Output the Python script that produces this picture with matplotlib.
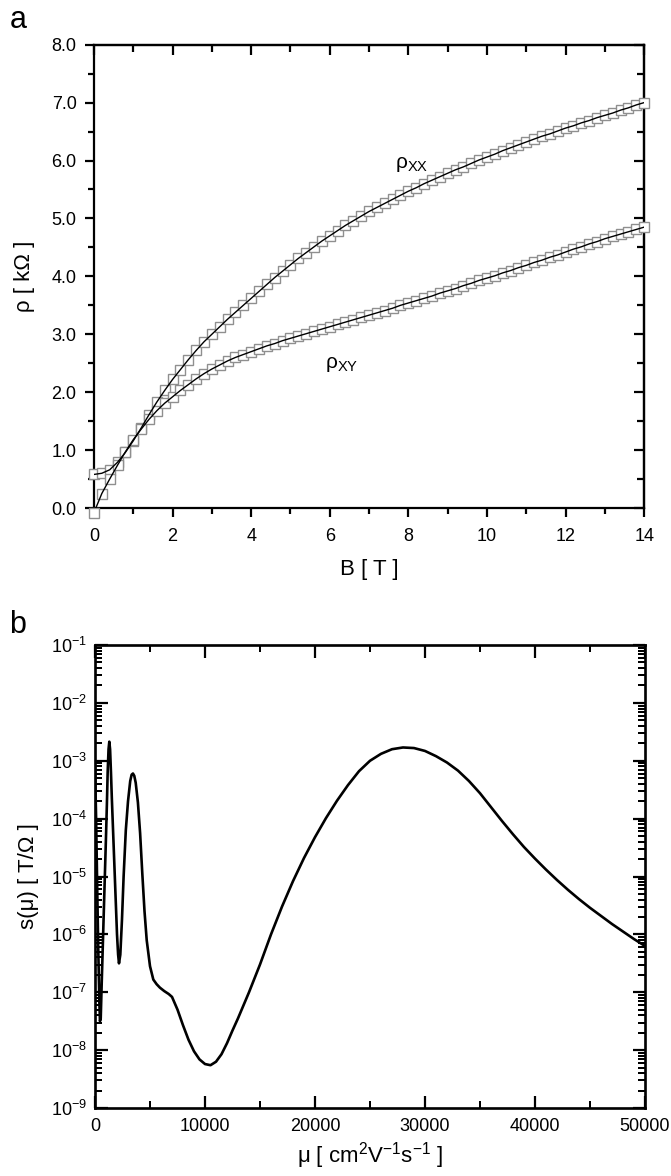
import matplotlib
matplotlib.use("Agg")
import matplotlib.pyplot as plt
import numpy as np
from matplotlib.ticker import MultipleLocator, LogLocator, NullFormatter, FormatStrFormatter, LogFormatterSciNotation

# ---- panel a: magnetoresistance data (B in T, rho in kOhm) ----
B_T = [0.0, 0.2, 0.4, 0.6, 0.8, 1.0, 1.2, 1.4, 1.6, 1.8,
       2.0, 2.2, 2.4, 2.6, 2.8, 3.0, 3.2, 3.4, 3.6, 3.8,
       4.0, 4.2, 4.4, 4.6, 4.8, 5.0, 5.2, 5.4, 5.6, 5.8,
       6.0, 6.2, 6.4, 6.6, 6.8, 7.0, 7.2, 7.4, 7.6, 7.8,
       8.0, 8.2, 8.4, 8.6, 8.8, 9.0, 9.2, 9.4, 9.6, 9.8,
       10.0, 10.2, 10.4, 10.6, 10.8, 11.0, 11.2, 11.4, 11.6, 11.8,
       12.0, 12.2, 12.4, 12.6, 12.8, 13.0, 13.2, 13.4, 13.6, 13.8, 14.0]
RHO_XX = [0.58, 0.60, 0.66, 0.79, 0.96, 1.16, 1.38, 1.61, 1.83, 2.03,
          2.22, 2.39, 2.56, 2.72, 2.87, 3.00, 3.13, 3.26, 3.38, 3.50,
          3.62, 3.74, 3.86, 3.98, 4.09, 4.20, 4.31, 4.41, 4.51, 4.61,
          4.70, 4.79, 4.88, 4.96, 5.04, 5.12, 5.19, 5.26, 5.33, 5.40,
          5.47, 5.53, 5.60, 5.66, 5.72, 5.78, 5.84, 5.89, 5.95, 6.01,
          6.06, 6.11, 6.17, 6.22, 6.27, 6.32, 6.37, 6.42, 6.46, 6.51,
          6.56, 6.60, 6.65, 6.69, 6.74, 6.78, 6.82, 6.87, 6.91, 6.96, 7.00]
RHO_XY = [-0.08, 0.25, 0.50, 0.74, 0.97, 1.18, 1.36, 1.53, 1.68, 1.81,
          1.92, 2.03, 2.13, 2.23, 2.32, 2.40, 2.47, 2.54, 2.60, 2.65,
          2.70, 2.75, 2.80, 2.84, 2.89, 2.93, 2.97, 3.01, 3.05, 3.09,
          3.13, 3.17, 3.21, 3.25, 3.29, 3.33, 3.37, 3.41, 3.45, 3.50,
          3.54, 3.58, 3.62, 3.66, 3.71, 3.75, 3.79, 3.84, 3.88, 3.93,
          3.97, 4.01, 4.06, 4.10, 4.15, 4.19, 4.24, 4.28, 4.33, 4.37,
          4.42, 4.47, 4.51, 4.56, 4.60, 4.65, 4.69, 4.73, 4.77, 4.81, 4.85]

# ---- panel b: mobility spectrum (mu in cm2/Vs, log10 of s(mu) in T/Ohm) ----
MU = [0, 100, 200, 300, 400, 450, 520, 600, 700, 800,
      900, 1000, 1080, 1150, 1230, 1300, 1370, 1450, 1530, 1600,
      1700, 1800, 1900, 2000, 2100, 2180, 2300, 2450, 2600, 2800,
      3000, 3200, 3330, 3450, 3570, 3700, 3900, 4100, 4300, 4500,
      4700, 5000, 5300, 5600, 5900, 6300, 6700, 7000, 7500, 8000,
      8500, 9000, 9500, 10000, 10500, 11000, 11500, 12000, 12500, 13000,
      14000, 15000, 16000, 17000, 18000, 19000, 20000, 21000, 22000, 23000,
      24000, 25000, 26000, 27000, 28000, 29000, 30000, 31000, 32000, 33000,
      34000, 35000, 36000, 37000, 38000, 39000, 40000, 41000, 42000, 43000,
      44000, 45000, 46000, 47000, 48000, 49000, 50000]
LOG_S = [-3.1, -4.0, -5.2, -6.3, -7.2, -7.5, -7.45, -6.9, -6.25, -5.6,
         -4.95, -4.3, -3.75, -3.2, -2.8, -2.67, -2.8, -3.2, -3.65, -4.0,
         -4.5, -5.0, -5.5, -6.0, -6.35, -6.5, -6.35, -5.75, -5.0, -4.2,
         -3.7, -3.35, -3.24, -3.22, -3.26, -3.38, -3.72, -4.25, -4.95, -5.6,
         -6.1, -6.55, -6.78, -6.86, -6.92, -6.98, -7.03, -7.08, -7.30, -7.57,
         -7.82, -8.02, -8.16, -8.24, -8.26, -8.20, -8.07, -7.88, -7.66, -7.45,
         -7.0, -6.52, -6.0, -5.52, -5.08, -4.68, -4.32, -3.99, -3.69, -3.42,
         -3.18, -3.0, -2.88, -2.80, -2.77, -2.78, -2.83, -2.92, -3.03, -3.17,
         -3.35, -3.56, -3.80, -4.04, -4.27, -4.49, -4.69, -4.88, -5.06, -5.23,
         -5.39, -5.54, -5.68, -5.82, -5.95, -6.08, -6.20]

plt.rcParams["font.family"] = ["Liberation Sans", "DejaVu Sans"]
plt.rcParams["mathtext.fontset"] = "custom"
plt.rcParams["mathtext.rm"] = "Liberation Sans"
plt.rcParams["mathtext.it"] = "Liberation Sans:italic"
plt.rcParams["mathtext.bf"] = "Liberation Sans:bold"

TICK_FS = 13
LABEL_FS = 16
SPINE_W = 1.6

fig = plt.figure(figsize=(6.71, 11.76), dpi=100)
ax_a = fig.add_axes([0.140, 0.568, 0.820, 0.394])
ax_b = fig.add_axes([0.1416, 0.0578, 0.8196, 0.3937])

# ---------------- panel a ----------------
for rho in (RHO_XX, RHO_XY):
    ax_a.plot(B_T, rho, ls="none", marker="s", ms=6.5, mfc="white",
              mec="#8f8f8f", mew=1.0, clip_on=False, zorder=3)
    ax_a.plot(B_T, rho, color="black", lw=1.0, zorder=4)

ax_a.set_xlim(0, 14)
ax_a.set_ylim(0, 8)
ax_a.xaxis.set_major_locator(MultipleLocator(2))
ax_a.xaxis.set_minor_locator(MultipleLocator(1))
ax_a.yaxis.set_major_locator(MultipleLocator(1))
ax_a.yaxis.set_minor_locator(MultipleLocator(0.5))
ax_a.yaxis.set_major_formatter(FormatStrFormatter("%.1f"))
ax_a.tick_params(which="major", direction="out", length=6.5, width=SPINE_W,
                 labelsize=TICK_FS)
ax_a.tick_params(axis="x", which="major", pad=8)
ax_a.tick_params(axis="y", which="major", pad=6)
ax_a.tick_params(which="minor", direction="out", length=4.5, width=SPINE_W)
for s in ax_a.spines.values():
    s.set_linewidth(SPINE_W)

top_a = ax_a.secondary_xaxis("top")
top_a.xaxis.set_major_locator(MultipleLocator(2))
top_a.xaxis.set_minor_locator(MultipleLocator(1))
top_a.tick_params(which="major", direction="in", length=7.5, width=SPINE_W, labeltop=False)
top_a.tick_params(which="minor", direction="in", length=5, width=SPINE_W)
right_a = ax_a.secondary_yaxis("right")
right_a.yaxis.set_major_locator(MultipleLocator(1))
right_a.yaxis.set_minor_locator(MultipleLocator(0.5))
right_a.tick_params(which="major", direction="in", length=7.5, width=SPINE_W, labelright=False)
right_a.tick_params(which="minor", direction="in", length=5, width=SPINE_W)
for sec in (top_a, right_a):
    for s in sec.spines.values():
        s.set_linewidth(SPINE_W)

ax_a.set_xlabel("B [ T ]", fontsize=LABEL_FS, labelpad=10)
ax_a.set_ylabel("ρ [ kΩ ]", fontsize=LABEL_FS, labelpad=12)
ax_a.text(7.66, 5.87, r"$\mathregular{\rho_{XX}}$", fontsize=15, ha="left", va="baseline")
ax_a.text(5.88, 2.42, r"$\mathregular{\rho_{XY}}$", fontsize=15, ha="left", va="baseline")
fig.text(0.014, 0.976, "a", fontsize=22, ha="left", va="baseline")

# ---------------- panel b ----------------
ax_b.plot(MU, 10.0 ** np.array(LOG_S), color="black", lw=1.9)
ax_b.set_yscale("log")
ax_b.set_xlim(0, 50000)
ax_b.set_ylim(1e-9, 1e-1)
ax_b.xaxis.set_major_locator(MultipleLocator(10000))
ax_b.xaxis.set_minor_locator(MultipleLocator(5000))
ax_b.yaxis.set_major_locator(LogLocator(base=10, numticks=20))
ax_b.yaxis.set_minor_locator(LogLocator(base=10, subs=np.arange(2, 10), numticks=20))
ax_b.yaxis.set_minor_formatter(NullFormatter())
ax_b.yaxis.set_major_formatter(LogFormatterSciNotation())
ax_b.tick_params(which="major", direction="in", length=9, width=SPINE_W,
                 labelsize=TICK_FS, top=True, right=True, pad=6)
ax_b.tick_params(axis="x", which="major", pad=7)
ax_b.tick_params(which="minor", direction="in", length=5, width=SPINE_W * 0.9,
                 top=True, right=True)
for s in ax_b.spines.values():
    s.set_linewidth(SPINE_W * 1.2)

ax_b.set_xlabel(r"$\mathregular{\mu\ [\ cm^2V^{-1}s^{-1}\ ]}$", fontsize=LABEL_FS, labelpad=4)
ax_b.set_ylabel("s(μ) [ T/Ω ]", fontsize=LABEL_FS, labelpad=8)
fig.text(0.014, 0.4617, "b", fontsize=22, ha="left", va="baseline")

fig.savefig("out.png", dpi=100, facecolor="white")
